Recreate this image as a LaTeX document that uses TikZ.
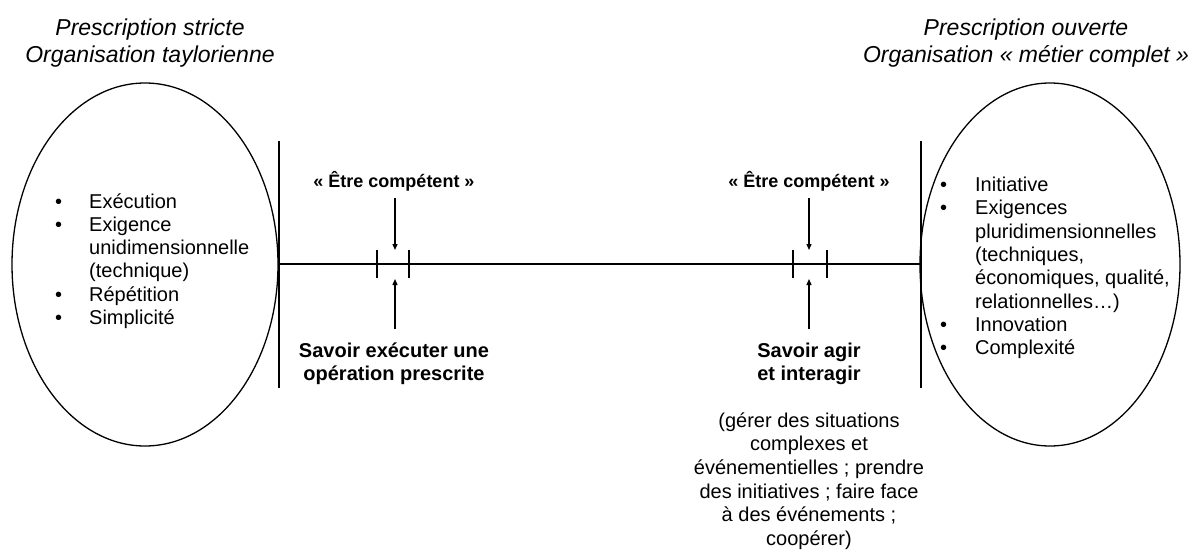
\documentclass[tikz,border=0pt]{standalone}
\usepackage{fontspec}
\setmainfont{Liberation Sans}
\usetikzlibrary{shapes.geometric,arrows.meta}
\newcommand{\bul}[1]{\makebox[#1][l]{•}}
\begin{document}
\begin{tikzpicture}[x=1pt,y=-1pt,
  line/.style={line width=1.3pt},
  arr/.style={line width=1.3pt,-{Triangle[length=6pt,width=5pt]}},
  title/.style={font=\fontsize{23}{26.5}\selectfont\itshape, align=center, inner sep=0},
  list/.style={font=\fontsize{20}{23.3}\selectfont, align=left, inner sep=0},
  lab/.style={font=\fontsize{20}{23}\selectfont\bfseries, align=center, inner sep=0},
  comp/.style={font=\fontsize{18}{22}\selectfont\bfseries, align=center, inner sep=0},
  para/.style={font=\fontsize{20}{23.6}\selectfont, align=center, inner sep=0},
  oval/.style={draw, ellipse, line width=1.3pt, inner sep=0}]
\useasboundingbox (0,0) rectangle (1189,551);
% titles
\node[title] (T1) at (150,43) {Prescription stricte\\Organisation taylorienne};
\node[title] (T2) at (1026,43) {Prescription ouverte\\Organisation « métier complet »};
% ellipses
\node[oval, minimum width=266pt, minimum height=363pt] (L) at (145,264.5) {};
\node[oval, minimum width=260pt, minimum height=363pt] (R) at (1050,264.5) {};
% lists
\node[list, anchor=west] (LL) at (55,261) {\bul{34pt}Exécution\\\bul{34pt}Exigence\\\hspace*{34pt}unidimensionnelle\\\hspace*{34pt}(technique)\\\bul{34pt}Répétition\\\bul{34pt}Simplicité};
\node[list, anchor=west] (RL) at (940,268) {\bul{35pt}Initiative\\\bul{35pt}Exigences\\\hspace*{35pt}pluridimensionnelles\\\hspace*{35pt}(techniques,\\\hspace*{35pt}économiques, qualité,\\\hspace*{35pt}relationnelles…)\\\bul{35pt}Innovation\\\bul{35pt}Complexité};
% axis
\coordinate (vlt) at (279,141); \coordinate (vlb) at (279,388);
\coordinate (vrt) at (921,141); \coordinate (vrb) at (921,388);
\coordinate (hl) at (279,264); \coordinate (hr) at (921,264);
\draw[line] (vlt) -- (vlb);
\draw[line] (vrt) -- (vrb);
\draw[line] (hl) -- (hr);
% ticks
\foreach \x [count=\i] in {377,409,793,827}{
  \coordinate (tk\i a) at (\x,250); \coordinate (tk\i b) at (\x,278);
  \draw[line] (tk\i a) -- (tk\i b);
}
% labels
\node[comp] (E1) at (394,181) {« Être compétent »};
\node[comp] (E2) at (809,181) {« Être compétent »};
\node[lab] (S1) at (394,364) {Savoir exécuter une\\opération prescrite};
\node[lab] (S2) at (809,364) {Savoir agir\\et interagir};
\node[para] (P) at (809,481) {(gérer des situations\\complexes et\\événementielles ; prendre\\des initiatives ; faire face\\à des événements ;\\coopérer)};
% arrows
\coordinate (d1s) at (395,198); \coordinate (d1e) at (395,250);
\coordinate (u1s) at (395,329); \coordinate (u1e) at (395,279);
\coordinate (d2s) at (809,198); \coordinate (d2e) at (809,250);
\coordinate (u2s) at (809,329); \coordinate (u2e) at (809,279);
\draw[arr] (d1s) -- (d1e);
\draw[arr] (u1s) -- (u1e);
\draw[arr] (d2s) -- (d2e);
\draw[arr] (u2s) -- (u2e);
\end{tikzpicture}
\end{document}
